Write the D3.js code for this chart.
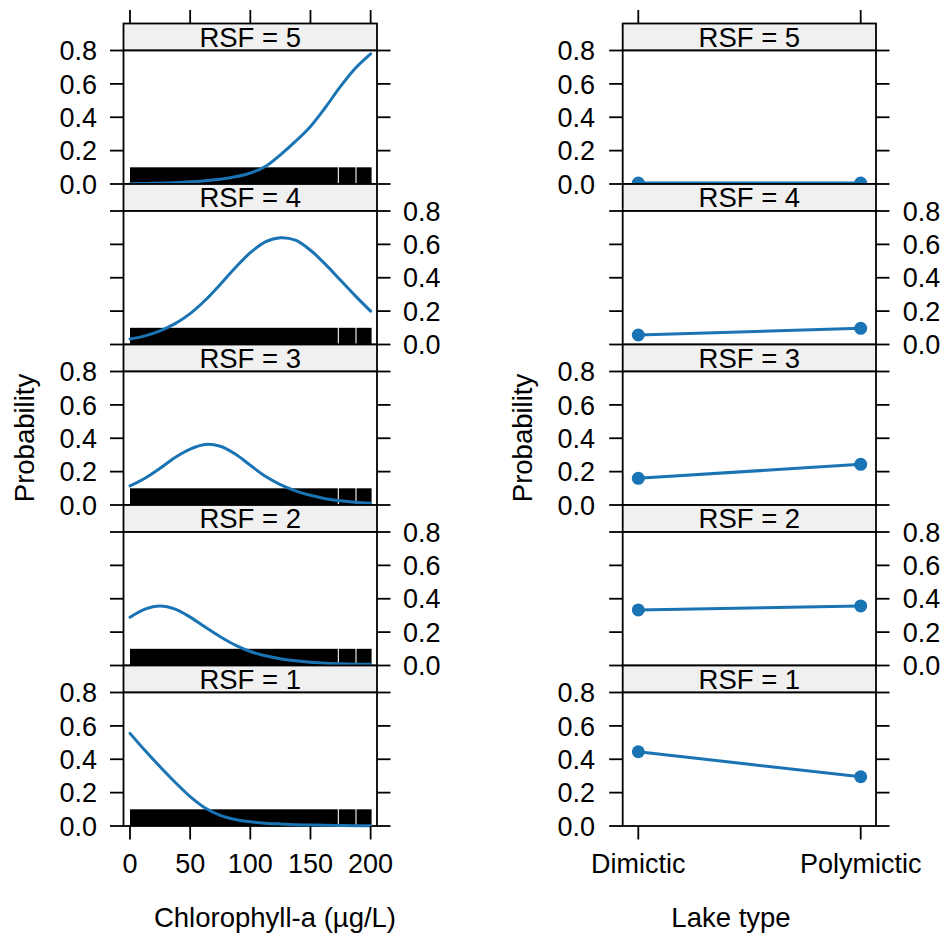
<!DOCTYPE html>
<html>
<head>
<meta charset="utf-8">
<script src="https://cdn.jsdelivr.net/npm/d3@7"></script>
<style>
  html, body { margin: 0; padding: 0; background: #fff; }
  svg { display: block; font-family: "Liberation Sans", Arial, sans-serif; }
</style>
</head>
<body>
<svg id="chart" width="941" height="933"></svg>
<script>
// ---------------- data ----------------
const chlValues = [0, 12.5, 25, 37.5, 50, 62.5, 75, 87.5, 100, 112.5, 125, 137.5, 150, 162.5, 175, 187.5, 200];
const probRSF1 = [0.555, 0.452, 0.355, 0.262, 0.176, 0.108, 0.064, 0.039, 0.025, 0.017, 0.012, 0.008, 0.006, 0.004, 0.003, 0.002, 0.001];
const probRSF2 = [0.289, 0.338, 0.357, 0.338, 0.290, 0.230, 0.172, 0.122, 0.084, 0.058, 0.040, 0.028, 0.019, 0.013, 0.010, 0.008, 0.007];
const probRSF3 = [0.114, 0.160, 0.220, 0.285, 0.335, 0.363, 0.352, 0.305, 0.238, 0.172, 0.122, 0.085, 0.058, 0.038, 0.025, 0.016, 0.010];
const probRSF4 = [0.033, 0.052, 0.082, 0.125, 0.185, 0.265, 0.360, 0.460, 0.550, 0.615, 0.640, 0.625, 0.565, 0.480, 0.385, 0.290, 0.200];
const probRSF5 = [0.002, 0.003, 0.005, 0.008, 0.013, 0.020, 0.029, 0.043, 0.066, 0.105, 0.175, 0.255, 0.345, 0.460, 0.585, 0.695, 0.780];

const lakeTypes = ["Dimictic", "Polymictic"];
const lakeRSF1 = [0.445, 0.295];
const lakeRSF2 = [0.333, 0.357];
const lakeRSF3 = [0.160, 0.244];
const lakeRSF4 = [0.057, 0.097];
const lakeRSF5 = [0.006, 0.006];

const rsfLevels = [5, 4, 3, 2, 1];            // top to bottom
const chlRugRanges = [[0, 172.7], [173.6, 187.4], [188.3, 200.8]];
const rugHeight = 0.1;
const yTicks = [0, 0.2, 0.4, 0.6, 0.8];
const xTicksChl = [0, 50, 100, 150, 200];
const xLabelChl = "Chlorophyll-a (\u00b5g/L)";
const xLabelLake = "Lake type";
const yLabel = "Probability";

// ---------------- layout ----------------
const svg = d3.select("#chart");
const COLOR = "#1a74b4";
const top0 = 23.5, stripH = 27, panelH = 133.5;
const lw = 1.8, tickLen = 13.5;
const fsTick = 27, fsStrip = 27.5, fsTitle = 27.5;

const probBySeries = {1: probRSF1, 2: probRSF2, 3: probRSF3, 4: probRSF4, 5: probRSF5};
const lakeBySeries = {1: lakeRSF1, 2: lakeRSF2, 3: lakeRSF3, 4: lakeRSF4, 5: lakeRSF5};

const columns = [
  { left: 123.5, right: 377, type: "chl", leftLabX: 97, rightLabX: 403, xlabX: 275, ylabX: 24 },
  { left: 622.7, right: 876, type: "lake", leftLabX: 595, rightLabX: 902.7, xlabX: 731, ylabX: 522.5 }
];

columns.forEach(col => {
  const g = svg.append("g");
  let x;
  if (col.type === "chl") {
    x = d3.scaleLinear().domain([-5.4, 205.3]).range([col.left, col.right]);
  } else {
    x = d3.scalePoint().domain(lakeTypes).range([638.3, 860.7]);
  }
  const xTickVals = col.type === "chl" ? xTicksChl : lakeTypes;
  const xTickFmt = col.type === "chl" ? (d => d3.format("d")(d)) : (d => d);

  rsfLevels.forEach((lev, i) => {
    const sTop = top0 + i * (stripH + panelH);
    const pTop = sTop + stripH;
    const pBot = pTop + panelH;
    const y = d3.scaleLinear().domain([0, 0.8]).range([pBot, pTop]);

    // strip
    g.append("rect").attr("x", col.left).attr("y", sTop)
      .attr("width", col.right - col.left).attr("height", stripH)
      .attr("fill", "#f0f0f0").attr("stroke", "#000").attr("stroke-width", lw);
    g.append("text").attr("x", (col.left + col.right) / 2).attr("y", sTop + stripH - 4)
      .attr("text-anchor", "middle").attr("font-size", fsStrip).text("RSF = " + lev);

    // panel frame
    g.append("rect").attr("x", col.left).attr("y", pTop)
      .attr("width", col.right - col.left).attr("height", panelH)
      .attr("fill", "#fff").attr("stroke", "#000").attr("stroke-width", lw);

    // y ticks both sides
    const labelsLeft = (i % 2 === 0);
    yTicks.forEach(t => {
      const yy = y(t);
      g.append("line").attr("x1", col.left - tickLen).attr("x2", col.left)
        .attr("y1", yy).attr("y2", yy).attr("stroke", "#000").attr("stroke-width", lw);
      g.append("line").attr("x1", col.right).attr("x2", col.right + tickLen)
        .attr("y1", yy).attr("y2", yy).attr("stroke", "#000").attr("stroke-width", lw);
      const lab = g.append("text").attr("y", yy).attr("dy", "0.36em")
        .attr("font-size", fsTick).text(d3.format(".1f")(t));
      if (labelsLeft) lab.attr("x", col.leftLabX).attr("text-anchor", "end");
      else lab.attr("x", col.rightLabX).attr("text-anchor", "start");
    });

    if (col.type === "chl") {
      // rug
      g.append("g").selectAll("rect").data(chlRugRanges).join("rect")
        .attr("x", d => x(d[0])).attr("width", d => x(d[1]) - x(d[0]))
        .attr("y", y(rugHeight)).attr("height", y(0) - y(rugHeight))
        .attr("fill", "#000");
      // curve
      const pts = chlValues.map((c, k) => [c, probBySeries[lev][k]]);
      g.append("path").datum(pts)
        .attr("d", d3.line().x(d => x(d[0])).y(d => y(d[1])).curve(d3.curveCatmullRom.alpha(0.5)))
        .attr("fill", "none").attr("stroke", COLOR).attr("stroke-width", 3)
        .attr("stroke-linecap", "round");
    } else {
      const pts = lakeTypes.map((c, k) => [c, lakeBySeries[lev][k]]);
      g.append("path").datum(pts)
        .attr("d", d3.line().x(d => x(d[0])).y(d => y(d[1])))
        .attr("fill", "none").attr("stroke", COLOR).attr("stroke-width", 3);
      g.append("g").selectAll("circle").data(pts).join("circle")
        .attr("cx", d => x(d[0])).attr("cy", d => y(d[1])).attr("r", 6.5)
        .attr("fill", COLOR);
    }

    // x ticks top (first panel) and bottom (last panel)
    if (i === 0) {
      xTickVals.forEach(t => {
        g.append("line").attr("x1", x(t)).attr("x2", x(t))
          .attr("y1", sTop - tickLen).attr("y2", sTop)
          .attr("stroke", "#000").attr("stroke-width", lw);
      });
    }
    if (i === rsfLevels.length - 1) {
      xTickVals.forEach(t => {
        g.append("line").attr("x1", x(t)).attr("x2", x(t))
          .attr("y1", pBot).attr("y2", pBot + tickLen)
          .attr("stroke", "#000").attr("stroke-width", lw);
        g.append("text").attr("x", x(t)).attr("y", 873)
          .attr("text-anchor", "middle").attr("font-size", fsTick).text(xTickFmt(t));
      });
    }
  });

  // axis titles
  svg.append("text").attr("x", col.xlabX).attr("y", 926.5)
    .attr("text-anchor", "middle").attr("font-size", fsTitle)
    .text(col.type === "chl" ? xLabelChl : xLabelLake);
  svg.append("text")
    .attr("transform", `translate(${col.ylabX + 9.5},438) rotate(-90)`)
    .attr("text-anchor", "middle").attr("font-size", fsTitle).text(yLabel);
});
</script>
</body>
</html>
